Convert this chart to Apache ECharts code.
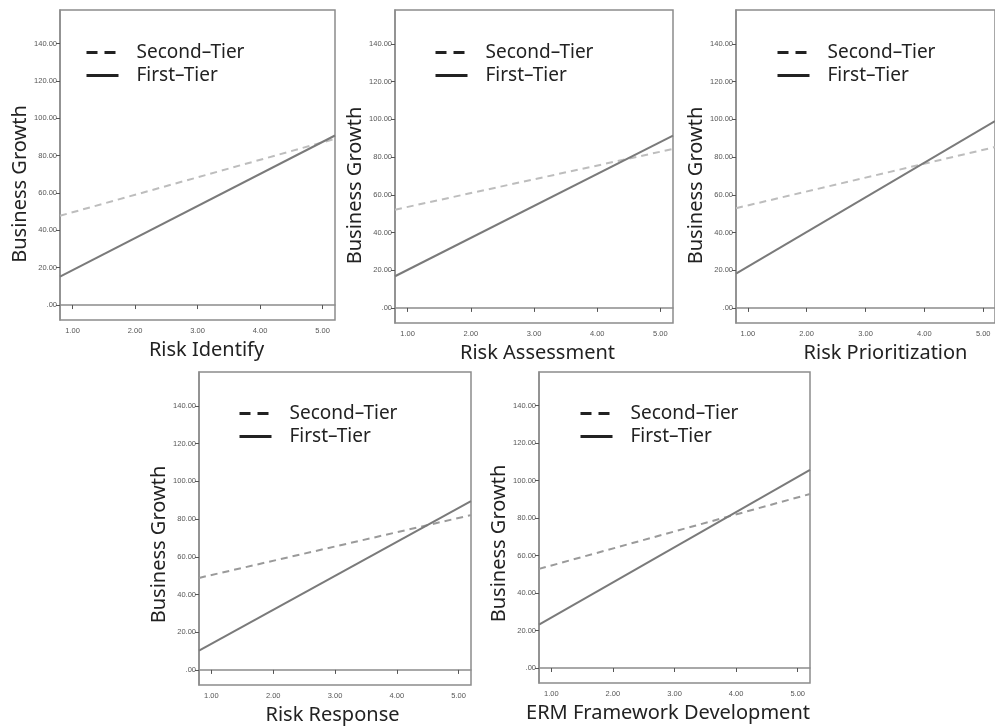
<!DOCTYPE html>
<html>
<head>
<meta charset="utf-8">
<script src="https://cdn.jsdelivr.net/npm/echarts@6/dist/echarts.min.js"></script>
<style>
html,body{margin:0;padding:0;background:#fff;overflow:hidden;}
#chart{width:995px;height:727px;}
</style>
</head>
<body>
<div id="chart"></div>
<script>
// ---- data ----
const panelNames = ['Risk Identify', 'Risk Assessment', 'Risk Prioritization', 'Risk Response', 'ERM Framework Development'];
const yAxisTitle = 'Business Growth';
const seriesNames = ['Second\u2013Tier', 'First\u2013Tier'];
const xEnds = [0.8, 5.2];
const firstTierAtMin = [15.2, 16.8, 18.2, 10.2, 23.2];
const firstTierAtMax = [90.8, 91.4, 99.1, 89.5, 105.7];
const secondTierAtMin = [47.8, 52.1, 52.9, 48.8, 52.9];
const secondTierAtMax = [89.0, 84.3, 85.3, 82.1, 92.9];
const yTickValues = [0, 20, 40, 60, 80, 100, 120, 140];
const yTickLabels = ['.00', '20.00', '40.00', '60.00', '80.00', '100.00', '120.00', '140.00'];
const xTickValues = [1, 2, 3, 4, 5];
const xTickLabels = ['1.00', '2.00', '3.00', '4.00', '5.00'];

// ---- layout ----
const grids = [
  {left: 60,  top: 10,  width: 275, height: 310},
  {left: 395, top: 10,  width: 278, height: 313},
  {left: 736, top: 10,  width: 266, height: 313},
  {left: 199, top: 372, width: 272, height: 313},
  {left: 539, top: 372, width: 271, height: 311}
];
const legendPos = [
  {left: 85,  top: 43},
  {left: 434, top: 43},
  {left: 776, top: 43},
  {left: 238, top: 404},
  {left: 579, top: 404}
];
const xTitleShift = [9, 3.5, 20, -2.5, -6.5];
const dashColor = ['#bdbdbd', '#bdbdbd', '#bdbdbd', '#9a9a9a', '#9a9a9a'];
const FONT = '"Noto Sans", "Open Sans", sans-serif';
const frameColor = '#8c8c8c';
const hiddenSymbol = {color: 'rgba(0,0,0,0)', borderWidth: 0, opacity: 0};

const option = {
  backgroundColor: '#ffffff',
  animation: false,
  grid: grids.map(g => Object.assign({show: true, borderColor: frameColor, borderWidth: 1.5, backgroundColor: '#fff'}, g)),
  legend: legendPos.map(p => ({
    left: p.left, top: p.top, orient: 'vertical', padding: 0,
    itemWidth: 32, itemHeight: 18, itemGap: 4,
    selectedMode: false,
    textStyle: {fontFamily: FONT, fontSize: 19, color: '#222', padding: [0, 0, 0, 13]},
    data: [
      {name: seriesNames[0], itemStyle: hiddenSymbol, lineStyle: {color: '#222', width: 3, type: [11, 7]}},
      {name: seriesNames[1], itemStyle: hiddenSymbol, lineStyle: {color: '#222', width: 3, type: 'solid'}}
    ]
  })),
  xAxis: grids.map((g, i) => {
    const s = xTitleShift[i] * 2;
    return {
      gridIndex: i, type: 'value', min: xEnds[0], max: xEnds[1],
      name: panelNames[i], nameLocation: 'middle', nameGap: 20,
      nameTextStyle: {fontFamily: FONT, fontSize: 20, color: '#222',
        padding: [0, s < 0 ? -s : 0, 0, s > 0 ? s : 0]},
      axisLine: {show: true, lineStyle: {color: frameColor, width: 1.5}},
      axisTick: {show: true, length: 4, customValues: xTickValues, lineStyle: {color: '#555', width: 1}},
      axisLabel: {customValues: xTickValues, margin: 7, fontFamily: 'Liberation Sans, Arial', fontSize: 7.5, color: '#555',
        formatter: v => { const k = xTickValues.indexOf(Math.round(v * 100) / 100); return k >= 0 ? xTickLabels[k] : ''; }},
      splitLine: {show: false}
    };
  }),
  yAxis: grids.map((g, i) => ({
    gridIndex: i, type: 'value', min: -8, max: 158,
    name: yAxisTitle, nameLocation: 'middle', nameGap: 29, nameRotate: 90,
    nameTextStyle: {fontFamily: FONT, fontSize: 20, color: '#222', padding: [0, i < 3 ? 38 : 32, 0, 0]},
    axisLine: {show: true, lineStyle: {color: frameColor, width: 1.5}},
    axisTick: {show: true, length: 4, customValues: yTickValues, lineStyle: {color: '#555', width: 1}},
    axisLabel: {customValues: yTickValues, margin: 3, fontFamily: 'Liberation Sans, Arial', fontSize: 7.5, color: '#555',
      formatter: v => { const k = yTickValues.indexOf(Math.round(v)); return k >= 0 ? yTickLabels[k] : ''; }},
    splitLine: {show: false}
  })),
  series: []
};

grids.forEach((g, i) => {
  option.series.push({
    name: seriesNames[0], type: 'line', xAxisIndex: i, yAxisIndex: i,
    symbol: 'none', silent: true,
    lineStyle: {color: dashColor[i], width: 2, type: [7, 5]},
    itemStyle: {color: dashColor[i]},
    data: [[xEnds[0], secondTierAtMin[i]], [xEnds[1], secondTierAtMax[i]]]
  });
  option.series.push({
    name: seriesNames[1], type: 'line', xAxisIndex: i, yAxisIndex: i,
    symbol: 'none', silent: true,
    lineStyle: {color: '#7a7a7a', width: 2},
    itemStyle: {color: '#7a7a7a'},
    data: [[xEnds[0], firstTierAtMin[i]], [xEnds[1], firstTierAtMax[i]]]
  });
});

const chart = echarts.init(document.getElementById('chart'), null, {renderer: 'canvas'});
chart.setOption(option);
</script>
</body>
</html>
